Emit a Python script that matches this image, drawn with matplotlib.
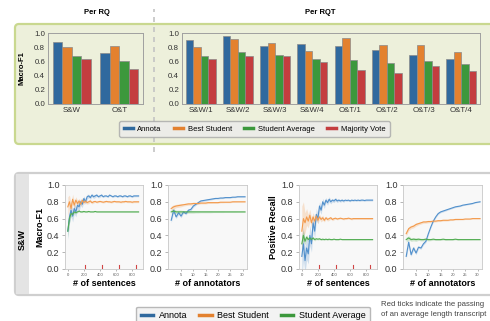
import matplotlib
import matplotlib.pyplot as plt
from matplotlib.lines import Line2D
from matplotlib.patches import FancyBboxPatch, Rectangle

matplotlib.use("agg")

plt.rcParams["font.family"] = ["Liberation Sans", "DejaVu Sans"]

W, H = 490, 321

# ---- bar data -------------------------------------------------------------
SERIES = ["Annota", "Best Student", "Student Average", "Majority Vote"]
BAR_COLORS = ["#30699e", "#e3812f", "#3c983c", "#c43d3f"]
LINE_COLORS = ["#5190cc", "#f39a4c", "#52ad52"]

rq_labels = ["S&W", "O&T"]
rq_annota = [0.88, 0.72]
rq_best = [0.80, 0.82]
rq_avg = [0.68, 0.60]
rq_majority = [0.63, 0.49]

rqt_labels = ["S&W/1", "S&W/2", "S&W/3", "S&W/4", "O&T/1", "O&T/2", "O&T/3", "O&T/4"]
rqt_annota = [0.90, 0.96, 0.82, 0.845, 0.81, 0.76, 0.69, 0.63]
rqt_best = [0.80, 0.91, 0.86, 0.75, 0.93, 0.83, 0.83, 0.73]
rqt_avg = [0.68, 0.73, 0.69, 0.63, 0.62, 0.58, 0.60, 0.57]
rqt_majority = [0.64, 0.67, 0.67, 0.59, 0.48, 0.44, 0.54, 0.47]

# ---- line data: vs number of sentences -----------------------------------
n_sentences = [0, 20, 40, 60, 80, 100, 120, 140, 160, 180, 200, 220, 240, 260, 280,
               300, 320, 340, 360, 380, 400, 420, 440, 460, 480, 500, 520, 540, 560,
               580, 600, 620, 640, 660, 680, 700, 720, 740, 760, 780, 800, 820, 840,
               860, 880]
transcript_marks = [212, 424, 636, 848]

f1_sent_annota = [0.45, 0.62, 0.70, 0.63, 0.72, 0.68, 0.76, 0.74, 0.80, 0.77, 0.84,
                  0.80, 0.86, 0.87, 0.85, 0.88, 0.86, 0.87, 0.88, 0.86, 0.87, 0.88,
                  0.86, 0.87, 0.87, 0.86, 0.88, 0.87, 0.86, 0.87, 0.87, 0.86, 0.87,
                  0.87, 0.86, 0.87, 0.87, 0.86, 0.87, 0.87, 0.86, 0.87, 0.87, 0.87, 0.87]
f1_sent_annota_sd = [0.10, 0.08, 0.07, 0.07, 0.06, 0.06, 0.05, 0.05, 0.04, 0.04, 0.03,
                     0.03, 0.03, 0.02, 0.02, 0.02, 0.02, 0.02, 0.015, 0.015, 0.015,
                     0.015, 0.01, 0.01, 0.01, 0.01, 0.01, 0.01, 0.01, 0.01, 0.01, 0.01,
                     0.01, 0.01, 0.01, 0.01, 0.01, 0.01, 0.01, 0.01, 0.01, 0.01, 0.01,
                     0.01, 0.01]
f1_sent_best = [0.74, 0.80, 0.72, 0.83, 0.76, 0.82, 0.78, 0.81, 0.77, 0.82, 0.79, 0.81,
                0.79, 0.80, 0.81, 0.79, 0.80, 0.805, 0.795, 0.80, 0.805, 0.80, 0.795,
                0.80, 0.805, 0.80, 0.80, 0.795, 0.80, 0.805, 0.80, 0.80, 0.80, 0.795,
                0.80, 0.80, 0.805, 0.80, 0.80, 0.80, 0.795, 0.80, 0.80, 0.80, 0.80]
f1_sent_best_sd = [0.12, 0.08, 0.07, 0.06, 0.05, 0.04, 0.04, 0.03, 0.03, 0.03, 0.02,
                   0.02, 0.02, 0.02, 0.015, 0.015, 0.015, 0.01, 0.01, 0.01, 0.01, 0.01,
                   0.01, 0.01, 0.01, 0.01, 0.01, 0.01, 0.01, 0.01, 0.01, 0.01, 0.01,
                   0.01, 0.01, 0.01, 0.01, 0.01, 0.01, 0.01, 0.01, 0.01, 0.01, 0.01, 0.01]
f1_sent_avg = [0.45, 0.60, 0.66, 0.65, 0.68, 0.67, 0.68, 0.69, 0.68, 0.68, 0.685, 0.68,
               0.68, 0.685, 0.68, 0.68, 0.68, 0.685, 0.68, 0.68, 0.68, 0.68, 0.68, 0.68,
               0.68, 0.68, 0.68, 0.68, 0.68, 0.68, 0.68, 0.68, 0.68, 0.68, 0.68, 0.68,
               0.68, 0.68, 0.68, 0.68, 0.68, 0.68, 0.68, 0.68, 0.68]
f1_sent_avg_sd = [0.08, 0.05, 0.03, 0.02, 0.015, 0.01, 0.01, 0.01, 0.008, 0.008, 0.008,
                  0.006, 0.006, 0.006, 0.005, 0.005, 0.005, 0.005, 0.005, 0.005, 0.005,
                  0.005, 0.005, 0.005, 0.005, 0.005, 0.005, 0.005, 0.005, 0.005, 0.005,
                  0.005, 0.005, 0.005, 0.005, 0.005, 0.005, 0.005, 0.005, 0.005, 0.005,
                  0.005, 0.005, 0.005, 0.005]

rec_sent_annota = [0.15, 0.30, 0.10, 0.25, 0.18, 0.40, 0.30, 0.55, 0.45, 0.65, 0.60,
                   0.75, 0.70, 0.80, 0.76, 0.82, 0.79, 0.83, 0.80, 0.82, 0.81, 0.83,
                   0.81, 0.82, 0.81, 0.82, 0.81, 0.82, 0.815, 0.82, 0.81, 0.82, 0.815,
                   0.82, 0.815, 0.82, 0.815, 0.82, 0.82, 0.815, 0.82, 0.82, 0.82, 0.82,
                   0.82]
rec_sent_annota_sd = [0.25, 0.20, 0.15, 0.14, 0.12, 0.12, 0.10, 0.09, 0.08, 0.07, 0.06,
                      0.05, 0.05, 0.04, 0.04, 0.03, 0.03, 0.03, 0.025, 0.02, 0.02, 0.02,
                      0.02, 0.015, 0.015, 0.015, 0.015, 0.01, 0.01, 0.01, 0.01, 0.01,
                      0.01, 0.01, 0.01, 0.01, 0.01, 0.01, 0.01, 0.01, 0.01, 0.01, 0.01,
                      0.01, 0.01]
rec_sent_best = [0.45, 0.60, 0.55, 0.62, 0.57, 0.64, 0.55, 0.62, 0.57, 0.63, 0.58,
                 0.62, 0.59, 0.61, 0.58, 0.61, 0.59, 0.60, 0.61, 0.59, 0.60, 0.605,
                 0.595, 0.60, 0.605, 0.60, 0.595, 0.60, 0.60, 0.605, 0.60, 0.595, 0.60,
                 0.60, 0.60, 0.60, 0.60, 0.60, 0.60, 0.60, 0.60, 0.60, 0.60, 0.60, 0.60]
rec_sent_best_sd = [0.30, 0.20, 0.12, 0.10, 0.08, 0.07, 0.06, 0.05, 0.05, 0.04, 0.04,
                    0.03, 0.03, 0.03, 0.02, 0.02, 0.02, 0.02, 0.015, 0.015, 0.015,
                    0.01, 0.01, 0.01, 0.01, 0.01, 0.01, 0.01, 0.01, 0.01, 0.01, 0.01,
                    0.01, 0.01, 0.01, 0.01, 0.01, 0.01, 0.01, 0.01, 0.01, 0.01, 0.01,
                    0.01, 0.01]
rec_sent_avg = [0.30, 0.40, 0.33, 0.38, 0.35, 0.37, 0.35, 0.37, 0.35, 0.36, 0.355,
                0.36, 0.35, 0.355, 0.35, 0.355, 0.35, 0.355, 0.35, 0.35, 0.355, 0.35,
                0.35, 0.35, 0.355, 0.35, 0.35, 0.35, 0.35, 0.35, 0.35, 0.35, 0.35,
                0.35, 0.35, 0.35, 0.35, 0.35, 0.35, 0.35, 0.35, 0.35, 0.35, 0.35, 0.35]
rec_sent_avg_sd = [0.10, 0.06, 0.04, 0.03, 0.025, 0.02, 0.02, 0.015, 0.015, 0.01, 0.01,
                   0.01, 0.01, 0.01, 0.008, 0.008, 0.008, 0.008, 0.006, 0.006, 0.006,
                   0.006, 0.006, 0.005, 0.005, 0.005, 0.005, 0.005, 0.005, 0.005,
                   0.005, 0.005, 0.005, 0.005, 0.005, 0.005, 0.005, 0.005, 0.005,
                   0.005, 0.005, 0.005, 0.005, 0.005, 0.005]

# ---- line data: vs number of annotators ----------------------------------
n_annotators = [1, 2, 3, 4, 5, 6, 7, 8, 9, 10, 11, 12, 13, 14, 15, 16, 17, 18, 19, 20,
                21, 22, 23, 24, 25, 26, 27, 28, 29, 30, 31]

f1_ann_annota = [0.58, 0.70, 0.62, 0.67, 0.63, 0.68, 0.66, 0.70, 0.71, 0.75, 0.77, 0.79,
                 0.81, 0.815, 0.82, 0.825, 0.83, 0.835, 0.84, 0.84, 0.845, 0.845, 0.85,
                 0.85, 0.85, 0.855, 0.855, 0.86, 0.86, 0.86, 0.86]
f1_ann_best = [0.72, 0.74, 0.75, 0.755, 0.76, 0.765, 0.77, 0.775, 0.775, 0.78, 0.78,
               0.78, 0.785, 0.785, 0.785, 0.79, 0.79, 0.79, 0.79, 0.79, 0.795, 0.795,
               0.795, 0.795, 0.795, 0.80, 0.80, 0.80, 0.80, 0.80, 0.80]
f1_ann_avg = [0.68, 0.69, 0.68, 0.68, 0.68, 0.68, 0.68, 0.68, 0.68, 0.68, 0.68, 0.68,
              0.68, 0.68, 0.68, 0.68, 0.68, 0.68, 0.68, 0.68, 0.68, 0.68, 0.68, 0.68,
              0.68, 0.68, 0.68, 0.68, 0.68, 0.68, 0.68]

rec_ann_annota = [0.15, 0.32, 0.17, 0.25, 0.19, 0.26, 0.25, 0.30, 0.33, 0.42, 0.50,
                  0.57, 0.62, 0.66, 0.68, 0.69, 0.70, 0.71, 0.72, 0.73, 0.74, 0.745,
                  0.75, 0.76, 0.765, 0.77, 0.775, 0.78, 0.79, 0.795, 0.80]
rec_ann_best = [0.42, 0.48, 0.50, 0.51, 0.53, 0.54, 0.55, 0.56, 0.56, 0.565, 0.565,
                0.57, 0.57, 0.575, 0.575, 0.58, 0.58, 0.58, 0.585, 0.585, 0.59, 0.59,
                0.59, 0.59, 0.595, 0.595, 0.595, 0.60, 0.60, 0.60, 0.60]
rec_ann_avg = [0.35, 0.37, 0.35, 0.355, 0.35, 0.355, 0.35, 0.35, 0.355, 0.35, 0.35,
               0.355, 0.35, 0.35, 0.35, 0.355, 0.35, 0.35, 0.35, 0.35, 0.355, 0.35,
               0.35, 0.35, 0.35, 0.35, 0.35, 0.35, 0.35, 0.35, 0.35]
ann_band = [0.03, 0.025, 0.02, 0.02, 0.02, 0.015, 0.015, 0.015, 0.015, 0.015, 0.012,
            0.012, 0.01, 0.01, 0.01, 0.01, 0.01, 0.008, 0.008, 0.008, 0.008, 0.008,
            0.006, 0.006, 0.006, 0.006, 0.006, 0.005, 0.005, 0.005, 0.005]


def px_rect(x0, y0, x1, y1):
    return [x0 / W, 1 - y1 / H, (x1 - x0) / W, (y1 - y0) / H]


def draw_box(fig, x0, y0, x1, y1, face, edge, lw=1.5, r=4):
    box = FancyBboxPatch(
        (x0 / 100, (H - y1) / 100), (x1 - x0) / 100, (y1 - y0) / 100,
        boxstyle="round,pad=0,rounding_size=%f" % (r / 100),
        transform=fig.dpi_scale_trans, facecolor=face, edgecolor=edge,
        linewidth=lw, zorder=-2,
    )
    fig.patches.append(box)


def bar_axes(fig, rect, labels, groups, ylabel=None):
    ax = fig.add_axes(rect)
    ax.set_facecolor("none")
    xs = list(range(len(labels)))
    for i, vals in enumerate(groups):
        ax.bar([x - 0.3 + 0.2 * i for x in xs], vals, width=0.2,
               color=BAR_COLORS[i], edgecolor="#8a8a8a", linewidth=0.5, zorder=2)
    ax.set_xlim(-0.5, len(labels) - 0.5)
    ax.set_ylim(0, 1.0)
    ax.set_xticks(xs)
    ax.set_xticklabels(labels)
    ax.set_yticks([0, 0.2, 0.4, 0.6, 0.8, 1.0])
    ax.set_yticklabels(["0.0", "0.2", "0.4", "0.6", "0.8", "1.0"])
    ax.tick_params(labelsize=5.7, length=0, pad=2, colors="#333333")
    for s in ax.spines.values():
        s.set_color("#a0a0a0")
        s.set_linewidth(0.7)
    if ylabel:
        ax.set_ylabel(ylabel, fontsize=5.5, fontweight="bold", labelpad=6)
    return ax


def line_axes(fig, rect, x, series, bands, xlabel, ylabel=None, marks=None,
              xticks=None, xlim=None):
    ax = fig.add_axes(rect)
    ax.set_facecolor("#f8f8f8")
    for i, vals in enumerate(series):
        lo = [v - b for v, b in zip(vals, bands[i])]
        hi = [v + b for v, b in zip(vals, bands[i])]
        ax.fill_between(x, lo, hi, color=LINE_COLORS[i], alpha=0.25, linewidth=0)
        ax.plot(x, vals, color=LINE_COLORS[i], linewidth=0.8)
    ax.set_ylim(0, 1.0)
    ax.set_xlim(*xlim)
    ax.set_xticks(xticks)
    ax.set_yticks([0, 0.2, 0.4, 0.6, 0.8, 1.0])
    ax.set_yticklabels(["0.0", "0.2", "0.4", "0.6", "0.8", "1.0"])
    ax.tick_params(axis="y", labelsize=6.5, length=2, width=0.5, pad=2,
                   colors="#333333", color="#999999")
    ax.tick_params(axis="x", labelsize=3, length=1.5, width=0.5, pad=1.5,
                   colors="#555555", color="#999999")
    for s in ax.spines.values():
        s.set_color("#c8c8c8")
        s.set_linewidth(0.6)
    if marks:
        for m in marks:
            ax.plot([m, m], [0, 0.045], color="#d04545", linewidth=0.8)
    ax.set_xlabel(xlabel, fontsize=6.5, fontweight="bold", labelpad=1)
    if ylabel:
        ax.set_ylabel(ylabel, fontsize=6.5, fontweight="bold", labelpad=2)
    return ax


def render(output="out.png"):
    fig = plt.figure(figsize=(W / 100, H / 100), dpi=100)
    fig.set_facecolor("white")

    # top panel
    draw_box(fig, 15, 24, 498, 144, "#edf0db", "#c9d88f", lw=1.6)
    fig.add_artist(Line2D([154 / W, 154 / W], [1 - 152 / H, 1 - 9 / H],
                          color="#c4c4c4", linewidth=1.2, linestyle=(0, (3, 3)),
                          zorder=-1))
    fig.text(97 / W, 1 - 13 / H, "Per RQ", ha="center", va="center",
             fontsize=5.5, fontweight="bold")
    fig.text(320 / W, 1 - 13 / H, "Per RQT", ha="center", va="center",
             fontsize=5.5, fontweight="bold")

    bar_axes(fig, px_rect(48, 33, 143, 104), rq_labels,
             [rq_annota, rq_best, rq_avg, rq_majority], ylabel="Macro-F1")
    bar_axes(fig, px_rect(182, 33, 480, 104), rqt_labels,
             [rqt_annota, rqt_best, rqt_avg, rqt_majority])

    handles = [Line2D([], [], color=c, linewidth=2.5) for c in BAR_COLORS]
    fig.legend(handles, SERIES, loc="center", bbox_to_anchor=(254.5 / W, 1 - 129 / H),
               ncol=4, fontsize=5.5, frameon=True, facecolor="#ececec",
               edgecolor="#a8a8a8", fancybox=True, handlelength=1.2,
               columnspacing=1.6, handletextpad=0.6, borderpad=0.55)

    # bottom panel
    draw_box(fig, 15, 173, 498, 295, "#ffffff", "#cfcfcf", lw=1.6)
    fig.patches.append(Rectangle((16 / W, 1 - 294 / H), 13 / W, 120 / H,
                                 transform=fig.transFigure, facecolor="#e4e4e4",
                                 edgecolor="none", zorder=-1))
    fig.text(22 / W, 1 - 240 / H, "S&W", rotation=90, ha="center", va="center",
             fontsize=6.5, fontweight="bold")

    line_axes(fig, px_rect(65, 185, 143, 269), n_sentences,
              [f1_sent_annota, f1_sent_best, f1_sent_avg],
              [f1_sent_annota_sd, f1_sent_best_sd, f1_sent_avg_sd],
              "# of sentences", "Macro-F1", transcript_marks,
              [0, 200, 400, 600, 800], (-35, 935))
    line_axes(fig, px_rect(168, 185, 247, 269), n_annotators,
              [f1_ann_annota, f1_ann_best, f1_ann_avg],
              [ann_band, ann_band, ann_band],
              "# of annotators", None, None,
              [5, 10, 15, 20, 25, 30], (-0.3, 31.8))
    line_axes(fig, px_rect(299, 185, 377, 269), n_sentences,
              [rec_sent_annota, rec_sent_best, rec_sent_avg],
              [rec_sent_annota_sd, rec_sent_best_sd, rec_sent_avg_sd],
              "# of sentences", "Positive Recall", transcript_marks,
              [0, 200, 400, 600, 800], (-35, 935))
    line_axes(fig, px_rect(403, 185, 482, 269), n_annotators,
              [rec_ann_annota, rec_ann_best, rec_ann_avg],
              [ann_band, ann_band, ann_band],
              "# of annotators", None, None,
              [5, 10, 15, 20, 25, 30], (-0.3, 31.8))

    handles = [Line2D([], [], color=c, linewidth=2.5) for c in BAR_COLORS[:3]]
    fig.legend(handles, SERIES[:3], loc="upper center",
               bbox_to_anchor=(253 / W, 1 - 302 / H), ncol=3, fontsize=6.5,
               frameon=True, facecolor="#f0f0f0", edgecolor="#a8a8a8",
               fancybox=True, handlelength=1.4, columnspacing=1.3,
               handletextpad=0.6, borderpad=0.5)

    fig.text(381 / W, 1 - 304 / H, "Red ticks indicate the passing",
             ha="left", va="center", fontsize=5.6, color="#444444")
    fig.text(381 / W, 1 - 315 / H, "of an average length transcript",
             ha="left", va="center", fontsize=5.6, color="#444444")

    fig.savefig(output, dpi=100, facecolor="white")
    plt.close(fig)


render()
